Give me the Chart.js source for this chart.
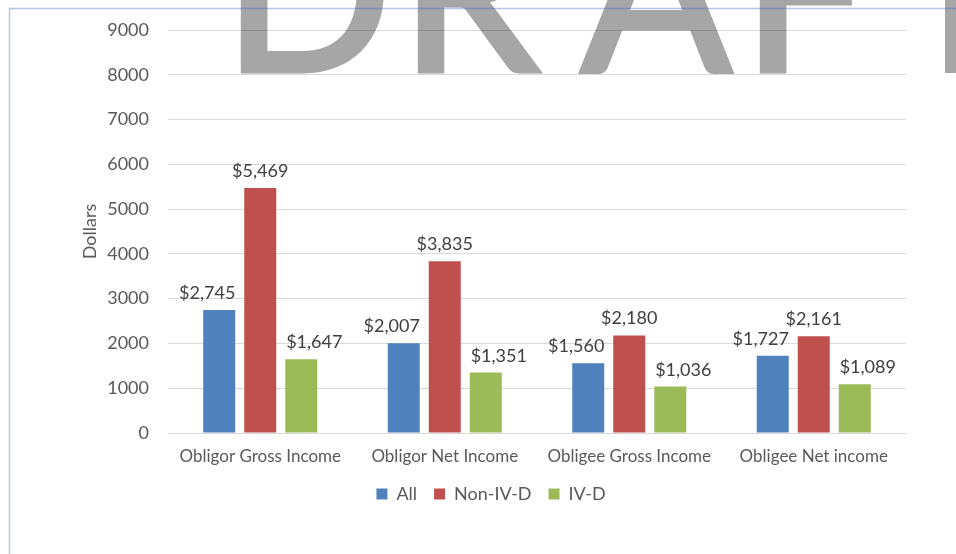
<!DOCTYPE html>
<html>
<head>
<meta charset="utf-8">
<script src="https://cdn.jsdelivr.net/npm/chart.js@4"></script>
<style>
  body { margin: 0; background: #fff; }
  #wrap { width: 956px; height: 554px; }
</style>
</head>
<body>
<div id="wrap"><canvas id="Incomes"></canvas></div>
<script>
const categories = ['Obligor Gross Income', 'Obligor Net Income', 'Obligee Gross Income', 'Obligee Net income'];
const seriesNames = ['All', 'Non-IV-D', 'IV-D'];
const allValues = [2745, 2007, 1560, 1727];
const nonIVDValues = [5469, 3835, 2180, 2161];
const ivdValues = [1647, 1351, 1036, 1089];
const yMax = 9000;
const yStep = 1000;

const FONT = 'Lato';
const colors = ['#4f81bd', '#c0504d', '#9bbb59'];
// labels in the picture were nudged sideways so they don't collide
const labelShift = [-12, 0, 13];

// big grey DRAFT stamp across the top, cut off by the page edge
const draftStamp = {
    id: 'draftStamp',
    beforeDraw(chart) {
        const ctx = chart.ctx;
        ctx.save();
        ctx.font = '100px ' + FONT;
        let m = ctx.measureText('D');
        const size = 100 * 140 / (m.actualBoundingBoxRight + m.actualBoundingBoxLeft);
        ctx.font = size + 'px ' + FONT;
        ctx.fillStyle = '#a6a6a6';
        ctx.strokeStyle = '#a6a6a6';
        ctx.lineWidth = 5;
        ctx.lineJoin = 'miter';
        ctx.textBaseline = 'alphabetic';
        const base = 71;
        const put = (ch, x) => {
            ctx.fillText(ch, x, base);
            ctx.strokeText(ch, x, base);
        };
        [['D', 243], ['R', 420], ['F', 762]].forEach(([ch, x]) => {
            put(ch, x + ctx.measureText(ch).actualBoundingBoxLeft);
        });
        [['A', 656], ['T', 958]].forEach(([ch, cx]) => {
            const mm = ctx.measureText(ch);
            put(ch, cx - (mm.actualBoundingBoxRight - mm.actualBoundingBoxLeft) / 2);
        });
        ctx.restore();
    },
    afterDraw(chart) {
        const ctx = chart.ctx;
        ctx.save();
        ctx.strokeStyle = 'rgba(68,114,196,0.4)';
        ctx.lineWidth = 1.5;
        ctx.beginPath();
        ctx.moveTo(956, 8.5);
        ctx.lineTo(9.5, 8.5);
        ctx.lineTo(9.5, 554);
        ctx.stroke();
        ctx.restore();
    }
};

const valueLabels = {
    id: 'valueLabels',
    afterDatasetsDraw(chart) {
        const ctx = chart.ctx;
        ctx.save();
        ctx.font = '18px ' + FONT;
        ctx.fillStyle = '#404040';
        ctx.textAlign = 'center';
        ctx.textBaseline = 'alphabetic';
        chart.data.datasets.forEach((ds, i) => {
            chart.getDatasetMeta(i).data.forEach((bar, j) => {
                const txt = '$' + ds.data[j].toLocaleString('en-US');
                ctx.fillText(txt, bar.x + labelShift[i], bar.y - 11);
            });
        });
        ctx.restore();
    }
};

const ctxIncomes = document.getElementById('Incomes').getContext('2d');
var myChart = new Chart(ctxIncomes, {
    type: 'bar',
    data: {
        labels: categories,
        datasets: [
            { label: seriesNames[0], data: allValues, backgroundColor: colors[0] },
            { label: seriesNames[1], data: nonIVDValues, backgroundColor: colors[1] },
            { label: seriesNames[2], data: ivdValues, backgroundColor: colors[2] }
        ]
    },
    options: {
        responsive: true,
        maintainAspectRatio: false,
        animation: false,
        categoryPercentage: 0.667,
        barPercentage: 0.78,
        layout: { padding: { left: 76, right: 50, top: 30, bottom: 41 } },
        plugins: {
            tooltip: { enabled: false },
            legend: {
                position: 'bottom',
                labels: {
                    color: '#595959',
                    font: { family: FONT, size: 18 },
                    boxWidth: 11,
                    boxHeight: 11,
                    padding: 17
                }
            }
        },
        scales: {
            x: {
                grid: { display: false, drawTicks: false },
                border: { display: false },
                ticks: { color: '#595959', font: { family: FONT, size: 17 }, padding: 13, maxRotation: 0 },
                afterFit(scale) { scale.height = 35; }
            },
            y: {
                min: 0,
                max: yMax,
                grid: { color: 'rgba(0,0,0,0.15)', drawTicks: false },
                border: { display: false },
                ticks: {
                    stepSize: yStep,
                    color: '#595959',
                    font: { family: FONT, size: 18 },
                    padding: 19,
                    callback: (v) => String(v)
                },
                title: {
                    display: true,
                    text: 'Dollars',
                    color: '#595959',
                    font: { family: FONT, size: 18 },
                    padding: { top: 3, bottom: 0 }
                },
                afterFit(scale) { scale.width = 92; }
            }
        }
    },
    plugins: [draftStamp, valueLabels]
});
</script>
</body>
</html>
